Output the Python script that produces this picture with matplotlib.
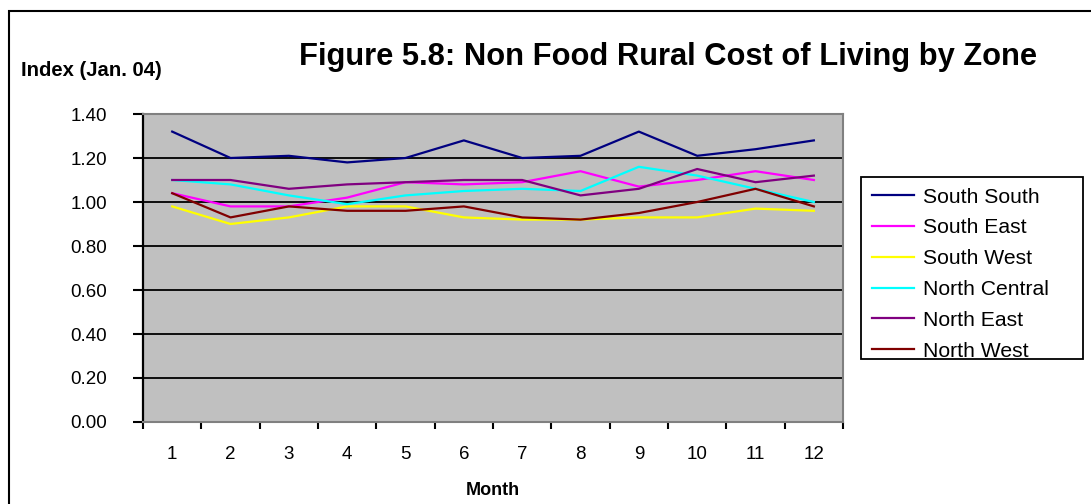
import numpy as np
import matplotlib
matplotlib.use("Agg")
import matplotlib.pyplot as plt
from matplotlib.patches import Rectangle


# Data

Months = [1, 2, 3, 4, 5, 6, 7, 8, 9, 10, 11, 12]

South_South   = [1.32, 1.20, 1.21, 1.18, 1.20, 1.28, 1.20, 1.21, 1.32, 1.21, 1.24, 1.28]
South_East    = [1.04, 0.98, 0.98, 1.02, 1.09, 1.08, 1.09, 1.14, 1.07, 1.10, 1.14, 1.10]
South_West    = [0.98, 0.90, 0.93, 0.98, 0.98, 0.93, 0.92, 0.92, 0.93, 0.93, 0.97, 0.96]
North_Central = [1.10, 1.08, 1.03, 0.99, 1.03, 1.05, 1.06, 1.05, 1.16, 1.12, 1.06, 1.00]
North_East    = [1.10, 1.10, 1.06, 1.08, 1.09, 1.10, 1.10, 1.03, 1.06, 1.15, 1.09, 1.12]
North_West    = [1.04, 0.93, 0.98, 0.96, 0.96, 0.98, 0.93, 0.92, 0.95, 1.00, 1.06, 0.98]

Zones = ["South South", "South East", "South West", "North Central", "North East", "North West"]
Series = [South_South, South_East, South_West, North_Central, North_East, North_West]
Colors = ["#000080", "#FF00FF", "#FFFF00", "#00FFFF", "#800080", "#800000"]

Y_Ticks = [0.0, 0.2, 0.4, 0.6, 0.8, 1.0, 1.2, 1.4]


# Plotting

plt.rcParams["font.family"] = ["Liberation Sans", "DejaVu Sans"]

W, H = 1091, 504
fig = plt.figure(figsize=(W / 100, H / 100), dpi=100)
ax = fig.add_axes([0.1311, 0.1627, 0.6416, 0.6111])
ax.set_facecolor("#C0C0C0")

for Values, Zone, Color in zip(Series, Zones, Colors):
    ax.plot(Months, Values, color=Color, linewidth=1.6, label=Zone, zorder=3)

ax.set_xlim(0.5, 12.5)
ax.set_ylim(0, 1.4)

# y axis
ax.set_yticks(Y_Ticks)
ax.set_yticklabels([f"{v:.2f}" for v in Y_Ticks], fontsize=13.5)
ax.tick_params(axis="y", direction="out", length=7, width=1.5, pad=19)
ax.yaxis.grid(True, color="black", linewidth=1.3, zorder=1)
ax.set_axisbelow(True)

# x axis: ticks between months, labels on months
ax.set_xticks(np.arange(0.5, 13, 1))
ax.set_xticklabels([])
ax.set_xticks(Months, minor=True)
ax.set_xticklabels([str(m) for m in Months], minor=True, fontsize=13.5)
ax.tick_params(axis="x", which="major", direction="out", length=5, width=1.5)
ax.tick_params(axis="x", which="minor", length=0, pad=17)

ax.spines["left"].set_color("black")
ax.spines["left"].set_linewidth(1.6)
for s in ["bottom", "right", "top"]:
    ax.spines[s].set_color("#808080")
    ax.spines[s].set_linewidth(1.5)

ax.set_xlabel("Month", fontsize=13, fontweight="bold", labelpad=14)

fig.text(668 / W, 1 - 57 / H, "Figure 5.8: Non Food Rural Cost of Living by Zone",
         fontsize=22.2, fontweight="bold", ha="center", va="center")
fig.text(21 / W, 1 - 71 / H, "Index (Jan. 04)", fontsize=14.6, fontweight="bold",
         ha="left", va="center")

# legend box (fixed size, entries clipped to it)
Leg_Box = Rectangle((861 / W, 1 - 359 / H), 222 / W, 182 / H, transform=fig.transFigure,
                    facecolor="white", edgecolor="black", linewidth=1.3, zorder=4)
fig.patches.append(Leg_Box)

leg = fig.legend(loc="upper left", bbox_to_anchor=(861 / W, 1 - 177 / H),
                 fontsize=15.2, frameon=False, handlelength=2.0,
                 handletextpad=0.45, labelspacing=0.56, borderpad=0.5,
                 borderaxespad=0)
leg.set_zorder(5)
for t in leg.get_texts():
    t.set_clip_path(Leg_Box)
for h in leg.legend_handles:
    h.set_clip_path(Leg_Box)

# outer border of the chart area
fig.patches.append(Rectangle((9 / W, -0.1), 1.2, 1.1 - 11 / H,
                             transform=fig.transFigure, fill=False,
                             edgecolor="black", linewidth=1.5, clip_on=False))

plt.savefig("out.png", dpi=100)
